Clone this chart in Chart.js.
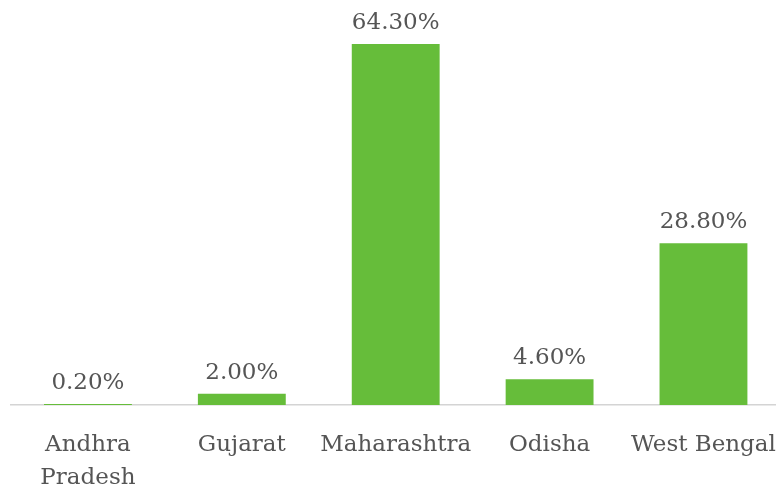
<!DOCTYPE html>
<html>
<head>
<meta charset="utf-8">
<script src="https://cdn.jsdelivr.net/npm/chart.js@4"></script>
<style>
  html, body { margin: 0; padding: 0; background: #fff; overflow: hidden; }
  #wrap { width: 792px; height: 489px; }
</style>
</head>
<body>
<div id="wrap"><canvas id="chart" width="792" height="489"></canvas></div>
<script>
// state share (%)
const states = [['Andhra', 'Pradesh'], 'Gujarat', 'Maharashtra', 'Odisha', 'West Bengal'];
const shares = [0.2, 2.0, 64.3, 4.6, 28.8];

const FONT = '"DejaVu Serif", serif';
const TEXT = '#555555';

// draws "64.30%" style labels over each bar
const barLabels = {
  id: 'barLabels',
  afterDatasetsDraw(chart) {
    const { ctx } = chart;
    const meta = chart.getDatasetMeta(0);
    ctx.save();
    ctx.font = '23px ' + FONT;
    ctx.fillStyle = TEXT;
    ctx.textAlign = 'center';
    ctx.textBaseline = 'alphabetic';
    meta.data.forEach((bar, i) => {
      ctx.fillText(shares[i].toFixed(2) + '%', bar.x, bar.y - 15);
    });
    ctx.restore();
  }
};

new Chart(document.getElementById('chart'), {
  type: 'bar',
  data: {
    labels: states,
    datasets: [{
      data: shares,
      backgroundColor: '#66bd3a',
      barPercentage: 0.571,
      categoryPercentage: 1,
    }],
  },
  options: {
    responsive: false,
    animation: false,
    layout: { padding: { left: 11, right: 11, top: 12, bottom: 0 } },
    plugins: { legend: { display: false }, tooltip: { enabled: false } },
    scales: {
      x: {
        grid: { display: false },
        border: { display: true, color: '#d4d4d4', width: 1.5 },
        ticks: {
          color: TEXT,
          font: { family: FONT, size: 23, lineHeight: 1.45 },
          padding: 15,
          maxRotation: 0,
          autoSkip: false,
        },
        afterFit: s => { s.height = 84; },
      },
      y: {
        display: false,
        min: 0,
        max: 70,
      },
    },
  },
  plugins: [barLabels],
});
</script>
</body>
</html>
